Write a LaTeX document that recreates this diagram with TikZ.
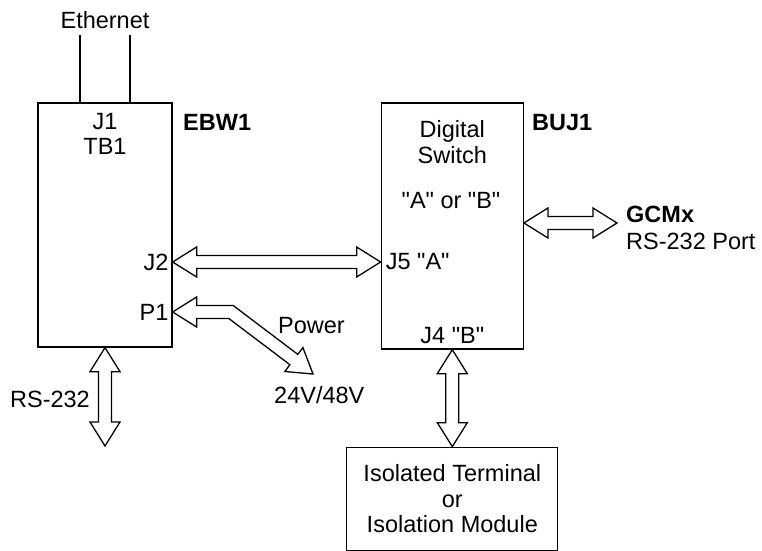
\documentclass[tikz,border=0pt]{standalone}
\usepackage{fontspec}
\setmainfont{Liberation Sans}
\usetikzlibrary{calc, positioning}

\newcommand{\fs}{\fontsize{23.5}{25.5}\selectfont}
\newcommand{\qq}{\textquotedbl}
% hollow arrow with a head at both ends
\newcommand{\hollowarrow}[2]{%
  \draw[fat] (#1)
    -- ($(#1)!24pt!(#2)!15pt!90:(#2)$) -- ($(#1)!24pt!(#2)!6.5pt!90:(#2)$)
    -- ($(#2)!24pt!(#1)!6.5pt!-90:(#1)$) -- ($(#2)!24pt!(#1)!15pt!-90:(#1)$)
    -- (#2)
    -- ($(#2)!24pt!(#1)!15pt!90:(#1)$) -- ($(#2)!24pt!(#1)!6.5pt!90:(#1)$)
    -- ($(#1)!24pt!(#2)!6.5pt!-90:(#2)$) -- ($(#1)!24pt!(#2)!15pt!-90:(#2)$)
    -- cycle;}

\begin{document}
\begin{tikzpicture}[x=1pt, y=-1pt,
  box/.style={draw, line width=1.3pt, inner sep=0pt, align=center, font=\fs},
  lbl/.style={inner sep=0pt, align=center, font=\fs},
  tag/.style={inner sep=0pt, font=\fs\bfseries},
  wire/.style={line width=1.3pt},
  fat/.style={draw, line width=1.3pt, fill=white, line join=miter}]
  \useasboundingbox (0,0) rectangle (762,550);

  \node[box, minimum width=134pt, minimum height=244pt] (ebw) at (105,225) {};
  \node[box, minimum width=142pt, minimum height=246pt, below right=0pt and 208pt of ebw.north east] (buj) {};
  \node[box, minimum width=211pt, minimum height=103pt, below=97pt of buj] (iso) {Isolated Terminal\\or\\Isolation Module};

  % Ethernet
  \node[lbl, anchor=base] (eth) at (105,28) {Ethernet};
  \coordinate (eth1) at (80,35);
  \coordinate (eth2) at (130,35);
  \draw[wire] (eth1) -- (eth1 |- ebw.north);
  \draw[wire] (eth2) -- (eth2 |- ebw.north);

  \node[lbl, below=10.5pt of ebw.north] (tb1) {J1\\TB1};
  \node[tag, anchor=base west] (ebwname) at (183,130) {EBW1};
  \node[lbl, below=18pt of buj.north] (dig) {Digital\\Switch};
  \node[lbl, anchor=base] (aorb) at (451,208) {\qq A\qq{} or \qq B\qq};
  \node[tag, anchor=base west] (bujname) at (532,130) {BUJ1};
  \node[lbl, above=6pt of buj.south] (j4) {J4 \qq B\qq};

  % ports
  \coordinate (j2p) at (ebw.east |- 0,262);
  \coordinate (j5p) at (buj.west |- j2p);
  \coordinate (p1p) at (ebw.east |- 0,312);
  \node[lbl, left=4pt of j2p] (j2) {J2};
  \node[lbl, right=5pt of j5p] (j5) {J5 \qq A\qq};
  \node[lbl, left=4pt of p1p] (p1) {P1};

  \hollowarrow{j2p}{j5p}

  % GCMx
  \coordinate (gcl) at (buj.east |- 0,223);
  \coordinate (gcr) at (617,223);
  \hollowarrow{gcl}{gcr}
  \node[tag, anchor=base west] (gcm) at (626,222) {GCMx};
  \node[lbl, anchor=base west] (rsport) at (626,249) {RS-232 Port};

  % RS-232
  \coordinate (rsb) at (105,446);
  \hollowarrow{ebw.south}{rsb}
  \node[lbl, anchor=base east] (rs) at (90,407) {RS-232};

  \hollowarrow{buj.south}{iso.north}

  % power
  \coordinate (bend) at (231,312);
  \coordinate (pwr) at (313,374);
  \coordinate (pa) at ($(p1p)!24pt!(bend)$);
  \coordinate (pb) at ($(pwr)!24pt!(bend)$);
  \coordinate (u1) at ($(pa)!6.5pt!90:(bend)$);
  \coordinate (u2) at ($(bend)!6.5pt!-90:(p1p)$);
  \coordinate (u3) at ($(bend)!6.5pt!90:(pwr)$);
  \coordinate (u4) at ($(pb)!6.5pt!-90:(bend)$);
  \coordinate (l1) at ($(pa)!6.5pt!-90:(bend)$);
  \coordinate (l2) at ($(bend)!6.5pt!90:(p1p)$);
  \coordinate (l3) at ($(bend)!6.5pt!-90:(pwr)$);
  \coordinate (l4) at ($(pb)!6.5pt!90:(bend)$);
  \draw[fat] (p1p) -- ($(pa)!15pt!90:(bend)$) -- (u1)
    -- (intersection of u1--u2 and u3--u4) -- (u4)
    -- ($(pb)!15pt!-90:(bend)$) -- (pwr) -- ($(pb)!15pt!90:(bend)$) -- (l4)
    -- (intersection of l1--l2 and l3--l4) -- (l1)
    -- ($(pa)!15pt!-90:(bend)$) -- cycle;
  \node[lbl, anchor=base west] (pwrlbl) at (278,333) {Power};
  \node[lbl, anchor=base west] (volt) at (274,403) {24V/48V};
\end{tikzpicture}
\end{document}
